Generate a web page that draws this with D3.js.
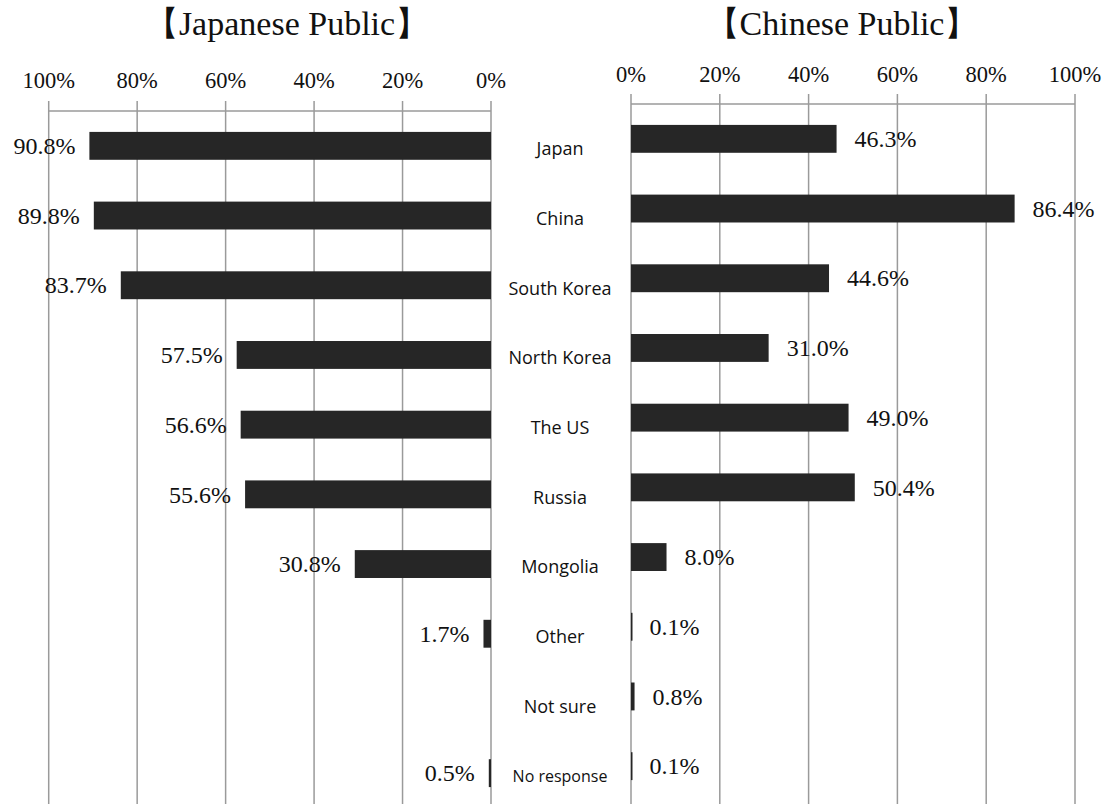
<!DOCTYPE html>
<html><head><meta charset="utf-8">
<script src="https://cdn.jsdelivr.net/npm/d3@7"></script>
<style>body{margin:0;background:#fff}</style>
</head><body>
<script>
const categories = ["Japan","China","South Korea","North Korea","The US","Russia","Mongolia","Other","Not sure","No response"];
const japaneseValues = [90.8, 89.8, 83.7, 57.5, 56.6, 55.6, 30.8, 1.7, null, 0.5];
const chineseValues = [46.3, 86.4, 44.6, 31.0, 49.0, 50.4, 8.0, 0.1, 0.8, 0.1];
const tickValues = [0, 20, 40, 60, 80, 100];
const titles = ["【Japanese Public】", "【Chinese Public】"];

const W = 1111, H = 804;
const svg = d3.select("body").append("svg").attr("width", W).attr("height", H);
const serif = "'Liberation Serif', 'DejaVu Serif', serif";
const sans = "'Open Sans', 'Noto Sans', sans-serif";
const grid = "#9a9a9a", barColor = "#262626";

function panel(opts) {
  const x = d3.scaleLinear().domain([0, 100]).range(opts.xr);
  const y = d3.scaleBand().domain(categories).range([opts.axisY, opts.axisY + 697]).paddingInner(0.6).paddingOuter(0.3);
  const g = svg.append("g");
  g.selectAll("line.grid").data(tickValues).join("line")
    .attr("x1", d => x(d)).attr("x2", d => x(d))
    .attr("y1", opts.axisY - 10).attr("y2", H)
    .attr("stroke", grid).attr("stroke-width", 1.5);
  g.append("line").attr("x1", x(0)).attr("x2", x(100)).attr("y1", opts.axisY).attr("y2", opts.axisY)
    .attr("stroke", grid).attr("stroke-width", 1.5);
  g.selectAll("text.tick").data(tickValues).join("text")
    .attr("x", d => x(d)).attr("y", opts.tickY)
    .attr("text-anchor", "middle").attr("font-family", serif).attr("font-size", 22.5)
    .attr("fill", "#111").text(d => d + "%");
  g.append("text").attr("x", opts.titleX).attr("y", 35).attr("text-anchor", "middle")
    .attr("font-family", serif).attr("font-size", 34).attr("fill", "#111").text(opts.title);
  const data = categories.map((c, i) => ({c, v: opts.values[i]})).filter(d => d.v !== null);
  g.selectAll("rect").data(data).join("rect")
    .attr("x", d => Math.min(x(0), x(d.v)))
    .attr("width", d => Math.max(Math.abs(x(d.v) - x(0)), 1.5))
    .attr("y", d => y(d.c)).attr("height", y.bandwidth())
    .attr("fill", barColor);
  g.selectAll("text.val").data(data).join("text")
    .attr("x", d => x(d.v) + opts.labelOff)
    .attr("y", d => y(d.c) + y.bandwidth() / 2)
    .attr("dy", "0.34em")
    .attr("text-anchor", opts.anchor)
    .attr("font-family", serif).attr("font-size", 24).attr("fill", "#111")
    .text(d => d.v.toFixed(1) + "%");
  return y;
}

const yL = panel({xr: [491, 48.7], axisY: 111, tickY: 88, titleX: 287, title: titles[0], values: japaneseValues, labelOff: -14, anchor: "end"});
panel({xr: [631, 1075], axisY: 104, tickY: 82, titleX: 842, title: titles[1], values: chineseValues, labelOff: 18, anchor: "start"});

svg.selectAll("text.cat").data(categories).join("text")
  .attr("x", 560).attr("y", d => yL(d) + yL.bandwidth() / 2 + 3)
  .attr("dy", "0.35em").attr("text-anchor", "middle")
  .attr("font-family", sans).attr("font-size", d => d === "No response" ? 16 : 18)
  .attr("fill", "#111").text(d => d);
</script>
</body></html>
